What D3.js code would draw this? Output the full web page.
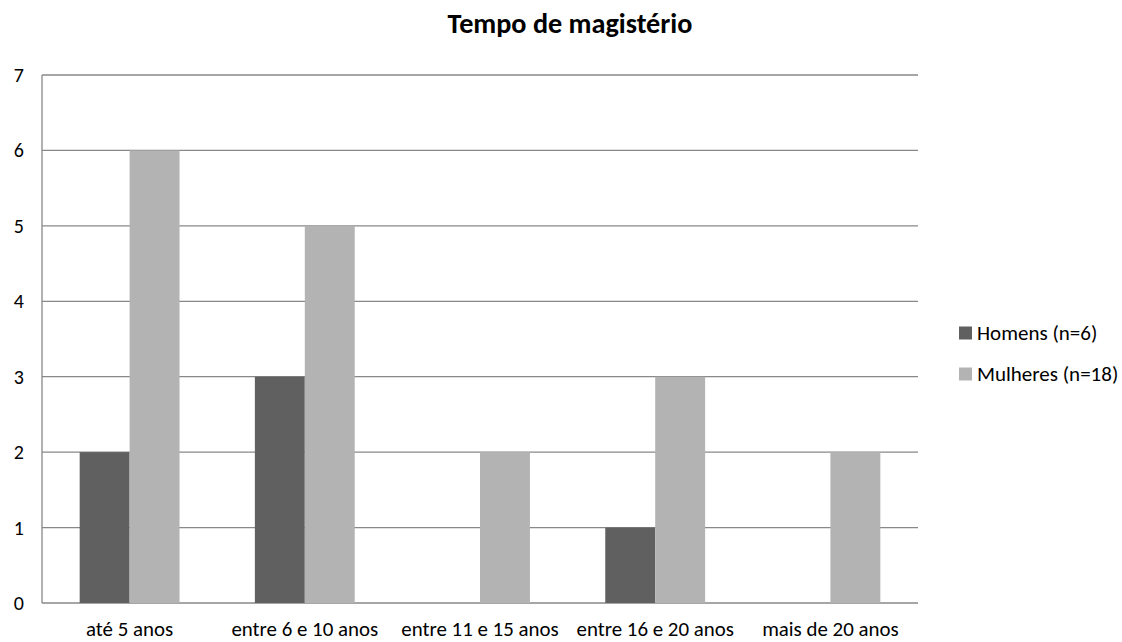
<!DOCTYPE html>
<html>
<head>
<meta charset="utf-8">
<script src="https://cdn.jsdelivr.net/npm/d3@7"></script>
<style>
  body { margin: 0; background: #fff; }
  svg { font-family: Carlito, Calibri, "Noto Sans", sans-serif; }
</style>
</head>
<body>
<div id="chart"></div>
<script>
const categories = ["até 5 anos", "entre 6 e 10 anos", "entre 11 e 15 anos", "entre 16 e 20 anos", "mais de 20 anos"];
const seriesNames = ["Homens (n=6)", "Mulheres (n=18)"];
const homens = [2, 3, 0, 1, 0];
const mulheres = [6, 5, 2, 3, 2];
const yTicks = [0, 1, 2, 3, 4, 5, 6, 7];
const colors = ["#606060", "#b3b3b3"];

const width = 1122, height = 642;
const margin = { top: 75, right: 204, bottom: 39, left: 42 };

const svg = d3.select("#chart").append("svg")
  .attr("width", width)
  .attr("height", height);

// scale a font so that one sample text gets the width
function fitFont(sel, sampleNode, target, base) {
  const w = sampleNode.getComputedTextLength();
  const size = w > 0 ? base * target / w : base;
  sel.attr("font-size", size.toFixed(1));
}

const rows = categories.map((c, i) => ({ cat: c, values: [homens[i], mulheres[i]] }));

const x = d3.scaleBand()
  .domain(categories)
  .range([margin.left, width - margin.right])
  .paddingInner(0.43)
  .paddingOuter(0.215);

const xs = d3.scaleBand()
  .domain([0, 1])
  .range([0, x.bandwidth()]);

const y = d3.scaleLinear()
  .domain([0, 7])
  .range([height - margin.bottom, margin.top]);

// gridlines
svg.append("g")
  .selectAll("line")
  .data(yTicks)
  .join("line")
  .attr("x1", margin.left)
  .attr("x2", width - margin.right)
  .attr("y1", d => y(d))
  .attr("y2", d => y(d))
  .attr("stroke", "#888")
  .attr("stroke-width", 1.3);

// left axis line
svg.append("line")
  .attr("x1", margin.left).attr("x2", margin.left)
  .attr("y1", y(0)).attr("y2", y(7))
  .attr("stroke", "#888")
  .attr("stroke-width", 1.3);

// bars
const group = svg.append("g")
  .selectAll("g")
  .data(rows)
  .join("g")
  .attr("transform", d => `translate(${x(d.cat)},0)`);

group.selectAll("rect")
  .data(d => d.values.map((v, i) => ({ v, i })))
  .join("rect")
  .attr("x", d => xs(d.i))
  .attr("width", xs.bandwidth())
  .attr("y", d => y(d.v))
  .attr("height", d => y(0) - y(d.v))
  .attr("fill", d => colors[d.i]);

// y labels
const yLab = svg.append("g")
  .selectAll("text")
  .data(yTicks)
  .join("text")
  .attr("x", 24)
  .attr("y", d => y(d))
  .attr("dy", "0.35em")
  .attr("text-anchor", "end")
  .attr("font-size", 20)
  .attr("fill", "#000")
  .text(d => d);

// x labels
const xLab = svg.append("g")
  .selectAll("text")
  .data(categories)
  .join("text")
  .attr("x", d => x(d) + x.bandwidth() / 2)
  .attr("y", 636)
  .attr("text-anchor", "middle")
  .attr("font-size", 20)
  .attr("fill", "#000")
  .text(d => d);
fitFont(xLab, xLab.nodes()[1], 147, 20);
fitFont(yLab, xLab.nodes()[1], 147, 20);

// title
const title = svg.append("text")
  .attr("x", 570)
  .attr("y", 33)
  .attr("text-anchor", "middle")
  .attr("font-size", 24)
  .attr("font-weight", "bold")
  .text("Tempo de magistério");
fitFont(title, title.node(), 245, 24);

// legend
const legend = svg.append("g")
  .selectAll("g")
  .data(seriesNames)
  .join("g")
  .attr("transform", (d, i) => `translate(959,${333 + i * 41})`);

legend.append("rect")
  .attr("x", 0).attr("y", -6.5)
  .attr("width", 13).attr("height", 13)
  .attr("fill", (d, i) => colors[i]);

const legText = legend.append("text")
  .attr("x", 18)
  .attr("dy", "0.35em")
  .attr("font-size", 20)
  .text(d => d);
fitFont(legText, legText.nodes()[1], 141, 20);
</script>
</body>
</html>
